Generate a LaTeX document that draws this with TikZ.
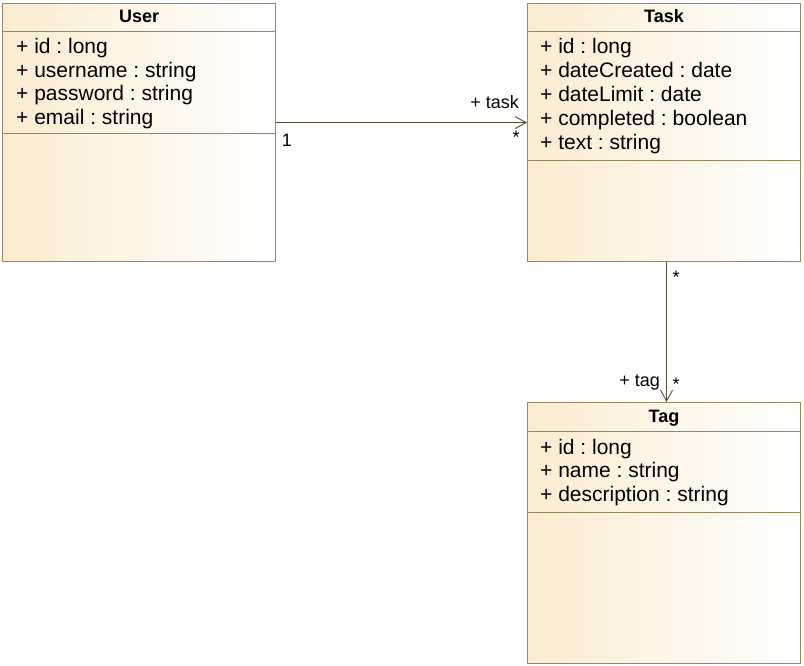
\documentclass[tikz,border=0pt]{standalone}
\usepackage{fontspec}
\setmainfont{Liberation Sans}
\usetikzlibrary{positioning,arrows.meta}
\frenchspacing

\definecolor{classfill}{RGB}{251,236,208}
\definecolor{classedge}{RGB}{155,135,95}
\definecolor{assocline}{RGB}{85,75,55}

\tikzset{
  classbox/.style={draw=classedge, line width=1.1pt, left color=classfill, right color=white,
    rectangle, minimum width=273pt, inner sep=0pt, anchor=north west},
  classline/.style={draw=classedge, line width=1pt},
  classtitle/.style={font=\fontsize{18}{20}\selectfont\bfseries, inner sep=0pt, text height=13pt, text depth=4pt},
  attr/.style={font=\fontsize{21}{23}\selectfont, anchor=west, inner sep=0pt, text height=15pt, text depth=4.5pt},
  multlabel/.style={font=\fontsize{18}{20}\selectfont, inner sep=0pt},
  assoc/.style={draw=assocline, line width=0.9pt, -{Straight Barb[length=11pt,width=12pt,line width=0.9pt]}}
}

\begin{document}
\begin{tikzpicture}[x=1pt,y=-1pt]
   \useasboundingbox (0,0) rectangle (804,665);

   % classes
   \node[classbox, minimum height=258pt] (user) at (2,3) {};
   \node[classbox, minimum height=258pt] (task) at (527,3) {};
   \node[classbox, minimum height=261pt] (tag) at (527,402) {};

   % compartments
   \draw[classline] ([yshift=-28pt]user.north west) -- ([yshift=-28pt]user.north east);
   \draw[classline] ([yshift=-130pt]user.north west) -- ([yshift=-130pt]user.north east);
   \draw[classline] ([yshift=-28pt]task.north west) -- ([yshift=-28pt]task.north east);
   \draw[classline] ([yshift=-157pt]task.north west) -- ([yshift=-157pt]task.north east);
   \draw[classline] ([yshift=-29pt]tag.north west) -- ([yshift=-29pt]tag.north east);
   \draw[classline] ([yshift=-110pt]tag.north west) -- ([yshift=-110pt]tag.north east);

   % names
   \node[classtitle] (usertitle) at ([yshift=-15pt]user.north) {User};
   \node[classtitle] (tasktitle) at ([yshift=-15pt]task.north) {Task};
   \node[classtitle] (tagtitle) at ([yshift=-16pt]tag.north) {Tag};

   % attributes
   \foreach \t [count=\i] in {+ id : long, + username : string, + password : string, + email : string}
     \node[attr] (userattr\i) at (16,{24.5+23.7*\i}) {\t};
   \foreach \t [count=\i] in {+ id : long, + dateCreated : date, + dateLimit : date, + completed : boolean, + text : string}
     \node[attr] (taskattr\i) at (540,{24.5+23.9*\i}) {\t};
   \foreach \t [count=\i] in {+ id : long, + name : string, + description : string}
     \node[attr] (tagattr\i) at (540,{425.5+23.5*\i}) {\t};

   % associations
   \draw[assoc] ([yshift=10pt]user.east) -- ([yshift=10pt]task.west);
   \draw[assoc] ([xshift=2.5pt]task.south) -- ([xshift=2.5pt]tag.north);

   \node[multlabel, anchor=east] (taskrole) at (519,102) {+ task};
   \node[multlabel] (usermult) at (287,140) {1};
   \node[multlabel] (taskmult) at (516,137) {*};
   \node[multlabel] (tasksrc) at (676,277) {*};
   \node[multlabel, anchor=east] (tagrole) at (660,383) {+ tag};
   \node[multlabel] (tagmult) at (676,384) {*};
\end{tikzpicture}
\end{document}
